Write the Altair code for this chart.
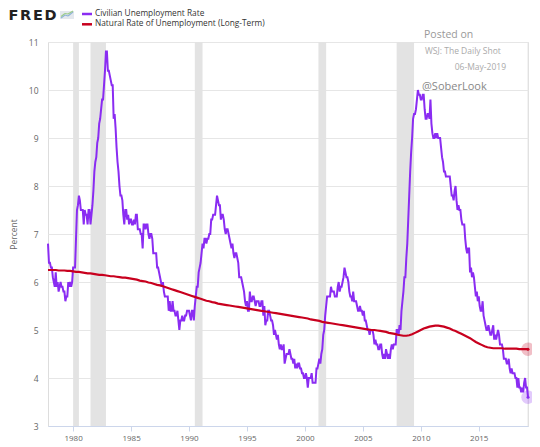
import altair as alt
import pandas as pd

# ---------------- data ----------------
# Civilian Unemployment Rate, monthly, starting Nov 1977
unrate_start_year, unrate_start_month = 1977, 11
unrate = [
    6.8, 6.4,
    6.4, 6.3, 6.3, 6.1, 6.0, 5.9, 6.2, 5.9, 6.0, 5.8, 5.9, 6.0,   # 1978
    5.9, 5.9, 5.8, 5.8, 5.6, 5.7, 5.7, 6.0, 5.9, 6.0, 5.9, 6.0,   # 1979
    6.3, 6.3, 6.3, 6.9, 7.5, 7.6, 7.8, 7.7, 7.5, 7.5, 7.5, 7.2,   # 1980
    7.5, 7.4, 7.4, 7.2, 7.5, 7.5, 7.2, 7.4, 7.6, 7.9, 8.3, 8.5,   # 1981
    8.6, 8.9, 9.0, 9.3, 9.4, 9.6, 9.8, 9.8, 10.1, 10.4, 10.8, 10.8,  # 1982
    10.4, 10.4, 10.3, 10.2, 10.1, 10.1, 9.4, 9.5, 9.2, 8.8, 8.5, 8.3,  # 1983
    8.0, 7.8, 7.8, 7.7, 7.4, 7.2, 7.5, 7.5, 7.3, 7.4, 7.2, 7.3,   # 1984
    7.3, 7.2, 7.2, 7.3, 7.2, 7.4, 7.4, 7.1, 7.1, 7.1, 7.0, 7.0,   # 1985
    6.7, 7.2, 7.2, 7.1, 7.2, 7.2, 7.0, 6.9, 7.0, 7.0, 6.9, 6.6,   # 1986
    6.6, 6.6, 6.6, 6.3, 6.3, 6.2, 6.1, 6.0, 5.9, 6.0, 5.8, 5.7,   # 1987
    5.7, 5.7, 5.7, 5.4, 5.6, 5.4, 5.4, 5.6, 5.4, 5.4, 5.3, 5.3,   # 1988
    5.4, 5.2, 5.0, 5.2, 5.2, 5.3, 5.2, 5.2, 5.3, 5.3, 5.4, 5.4,   # 1989
    5.4, 5.3, 5.2, 5.4, 5.4, 5.2, 5.5, 5.7, 5.9, 5.9, 6.2, 6.3,   # 1990
    6.4, 6.6, 6.8, 6.7, 6.9, 6.9, 6.8, 6.9, 6.9, 7.0, 7.0, 7.3,   # 1991
    7.3, 7.4, 7.4, 7.4, 7.6, 7.8, 7.7, 7.6, 7.6, 7.3, 7.4, 7.4,   # 1992
    7.3, 7.1, 7.0, 7.1, 7.1, 7.0, 6.9, 6.8, 6.7, 6.8, 6.6, 6.5,   # 1993
    6.6, 6.6, 6.5, 6.4, 6.1, 6.1, 6.1, 6.0, 5.9, 5.8, 5.6, 5.5,   # 1994
    5.6, 5.4, 5.4, 5.8, 5.6, 5.6, 5.7, 5.7, 5.6, 5.5, 5.6, 5.6,   # 1995
    5.6, 5.5, 5.5, 5.6, 5.6, 5.3, 5.5, 5.1, 5.2, 5.2, 5.4, 5.4,   # 1996
    5.3, 5.2, 5.2, 5.1, 4.9, 5.0, 4.9, 4.8, 4.9, 4.7, 4.6, 4.7,   # 1997
    4.6, 4.6, 4.7, 4.3, 4.4, 4.5, 4.5, 4.5, 4.6, 4.5, 4.4, 4.4,   # 1998
    4.3, 4.4, 4.2, 4.3, 4.2, 4.3, 4.3, 4.2, 4.2, 4.1, 4.1, 4.0,   # 1999
    4.0, 4.1, 4.0, 3.8, 4.0, 4.0, 4.0, 4.1, 3.9, 3.9, 3.9, 3.9,   # 2000
    4.2, 4.2, 4.3, 4.4, 4.3, 4.5, 4.6, 4.9, 5.0, 5.3, 5.5, 5.7,   # 2001
    5.7, 5.7, 5.7, 5.9, 5.8, 5.8, 5.8, 5.7, 5.7, 5.7, 5.9, 6.0,   # 2002
    5.8, 5.9, 5.9, 6.0, 6.1, 6.3, 6.2, 6.1, 6.1, 6.0, 5.8, 5.7,   # 2003
    5.7, 5.6, 5.8, 5.6, 5.6, 5.6, 5.5, 5.4, 5.4, 5.5, 5.4, 5.4,   # 2004
    5.3, 5.4, 5.2, 5.2, 5.1, 5.0, 5.0, 4.9, 5.0, 5.0, 5.0, 4.9,   # 2005
    4.7, 4.8, 4.7, 4.7, 4.6, 4.6, 4.7, 4.7, 4.5, 4.4, 4.5, 4.4,   # 2006
    4.6, 4.5, 4.4, 4.5, 4.4, 4.6, 4.7, 4.6, 4.7, 4.7, 4.7, 5.0,   # 2007
    5.0, 4.9, 5.1, 5.0, 5.4, 5.6, 5.8, 6.1, 6.1, 6.5, 6.8, 7.3,   # 2008
    7.8, 8.3, 8.7, 9.0, 9.4, 9.5, 9.5, 9.6, 9.8, 10.0, 9.9, 9.9,  # 2009
    9.8, 9.8, 9.9, 9.9, 9.6, 9.4, 9.4, 9.5, 9.5, 9.4, 9.8, 9.3,   # 2010
    9.1, 9.0, 9.0, 9.1, 9.0, 9.1, 9.0, 9.0, 9.0, 8.8, 8.6, 8.5,   # 2011
    8.3, 8.3, 8.2, 8.2, 8.2, 8.2, 8.2, 8.0, 7.8, 7.8, 7.7, 7.9,   # 2012
    8.0, 7.7, 7.5, 7.6, 7.5, 7.5, 7.3, 7.2, 7.2, 7.2, 6.9, 6.7,   # 2013
    6.6, 6.7, 6.7, 6.2, 6.3, 6.1, 6.2, 6.1, 5.9, 5.7, 5.8, 5.6,   # 2014
    5.7, 5.5, 5.4, 5.4, 5.6, 5.3, 5.2, 5.1, 5.0, 5.0, 5.1, 5.0,   # 2015
    4.9, 4.9, 5.0, 5.1, 4.8, 4.9, 4.8, 4.9, 5.0, 4.9, 4.7, 4.7,   # 2016
    4.7, 4.6, 4.4, 4.4, 4.4, 4.3, 4.3, 4.4, 4.2, 4.1, 4.2, 4.1,   # 2017
    4.1, 4.1, 4.0, 4.0, 3.8, 4.0, 3.8, 3.8, 3.7, 3.8, 3.7, 3.9,   # 2018
    4.0, 3.8, 3.8, 3.6,                                           # 2019
]

# Natural Rate of Unemployment (Long-Term), quarterly, starting 1977 Q4
nrou_start_year, nrou_start_quarter = 1977, 4
nrou = [
    6.25,
    6.25, 6.25, 6.25, 6.24,  # 1978
    6.24, 6.24, 6.23, 6.23,  # 1979
    6.22, 6.21, 6.21, 6.20,  # 1980
    6.19, 6.18, 6.18, 6.17,  # 1981
    6.16, 6.15, 6.15, 6.14,  # 1982
    6.13, 6.12, 6.12, 6.11,  # 1983
    6.10, 6.09, 6.09, 6.08,  # 1984
    6.07, 6.06, 6.05, 6.03,  # 1985
    6.02, 6.01, 5.99, 5.98,  # 1986
    5.96, 5.94, 5.93, 5.91,  # 1987
    5.89, 5.87, 5.85, 5.83,  # 1988
    5.81, 5.79, 5.77, 5.75,  # 1989
    5.73, 5.71, 5.69, 5.67,  # 1990
    5.65, 5.63, 5.61, 5.60,  # 1991
    5.58, 5.57, 5.55, 5.54,  # 1992
    5.53, 5.52, 5.51, 5.50,  # 1993
    5.49, 5.48, 5.47, 5.46,  # 1994
    5.45, 5.44, 5.43, 5.42,  # 1995
    5.41, 5.40, 5.39, 5.38,  # 1996
    5.37, 5.36, 5.35, 5.34,  # 1997
    5.33, 5.32, 5.31, 5.30,  # 1998
    5.29, 5.28, 5.27, 5.26,  # 1999
    5.25, 5.24, 5.22, 5.21,  # 2000
    5.20, 5.19, 5.17, 5.16,  # 2001
    5.15, 5.14, 5.13, 5.12,  # 2002
    5.11, 5.10, 5.09, 5.08,  # 2003
    5.07, 5.06, 5.05, 5.04,  # 2004
    5.03, 5.02, 5.01, 5.00,  # 2005
    5.00, 4.99, 4.98, 4.97,  # 2006
    4.96, 4.94, 4.93, 4.92,  # 2007
    4.90, 4.89, 4.88, 4.88,  # 2008
    4.89, 4.91, 4.94, 4.97,  # 2009
    5.00, 5.03, 5.05, 5.07,  # 2010
    5.08, 5.09, 5.09, 5.08,  # 2011
    5.07, 5.05, 5.03, 5.00,  # 2012
    4.98, 4.95, 4.92, 4.89,  # 2013
    4.86, 4.83, 4.79, 4.75,  # 2014
    4.72, 4.69, 4.66, 4.64,  # 2015
    4.63, 4.62, 4.62, 4.62,  # 2016
    4.62, 4.61, 4.61, 4.61,  # 2017
    4.61, 4.61, 4.60, 4.60,  # 2018
    4.60, 4.60,              # 2019
]

# NBER recessions (decimal years)
rec_start = [1980.0, 1981 + 6 / 12, 1990 + 6 / 12, 2001 + 2 / 12, 2007 + 11 / 12]
rec_end = [1980 + 6 / 12, 1982 + 10 / 12, 1991 + 2 / 12, 2001 + 10 / 12, 2009 + 5 / 12]

x_ticks = [1980, 1985, 1990, 1995, 2000, 2005, 2010, 2015]
y_ticks = [3, 4, 5, 6, 7, 8, 9, 10, 11]
x_domain = [1977 + 10 / 12, 2019 + 3 / 12]
y_domain = [3, 11]

# ---------------- tables ----------------
u_df = pd.DataFrame({
    "t": [unrate_start_year + (unrate_start_month - 1 + i) / 12 for i in range(len(unrate))],
    "v": unrate,
})
n_df = pd.DataFrame({
    "t": [nrou_start_year + (nrou_start_quarter - 1 + i) / 4 for i in range(len(nrou))],
    "v": nrou,
})
rec_df = pd.DataFrame({"s": rec_start, "e": rec_end})
u_last = u_df.tail(1)
n_last = n_df.tail(1)
one = pd.DataFrame({"a": [0]})

PURPLE = "#8a2cf2"
RED = "#c8001e"
W, H = 480, 384

xs = alt.Scale(domain=x_domain, nice=False, zero=False)
ys = alt.Scale(domain=y_domain, nice=False, zero=False)

x_axis = alt.Axis(values=x_ticks, format="d", grid=False, domainColor="#ccd6eb",
                  tickColor="#ccd6eb", tickSize=5, labelPadding=3, labelColor="#666666",
                  labelFontSize=8, title=None, labelFlush=False)
y_axis = alt.Axis(values=y_ticks, grid=True, gridColor="#e6e6e6", domain=False, ticks=False,
                  labelPadding=10, labelColor="#666666", labelFontSize=8.5, title="Percent",
                  titleColor="#666666", titleFontSize=8.5, titleFontWeight="normal", titlePadding=10)

bands = alt.Chart(rec_df).mark_rect(color="#e3e3e3").encode(
    x=alt.X("s:Q", scale=xs, axis=x_axis),
    x2="e:Q",
)

right_edge = alt.Chart(one).mark_rule(color="#e6e6e6", strokeWidth=1).encode(
    x=alt.value(W), y=alt.value(0), y2=alt.value(H)
)

u_line = alt.Chart(u_df).mark_line(color=PURPLE, strokeWidth=2).encode(
    x=alt.X("t:Q", scale=xs, axis=x_axis),
    y=alt.Y("v:Q", scale=ys, axis=y_axis),
)
n_line = alt.Chart(n_df).mark_line(color=RED, strokeWidth=2.2, clip=True).encode(
    x=alt.X("t:Q", scale=xs), y=alt.Y("v:Q", scale=ys)
)

def end_marker(df, color, op):
    halo = alt.Chart(df).mark_point(filled=True, shape="circle", size=180, color=color,
                                    opacity=op).encode(
        x=alt.X("t:Q", scale=xs), y=alt.Y("v:Q", scale=ys))
    dot = alt.Chart(df).mark_point(filled=True, shape="circle", size=9, color=color,
                                   opacity=1).encode(
        x=alt.X("t:Q", scale=xs), y=alt.Y("v:Q", scale=ys))
    return halo + dot

def txt(s, x, y, size, color, align="left", weight="normal", font="Open Sans", baseline="middle"):
    return alt.Chart(one).mark_text(text=s, align=align, baseline=baseline, fontSize=size,
                                    color=color, fontWeight=weight, font=font).encode(
        x=alt.value(x), y=alt.value(y))

def seg(x1, x2, y, color, w, y2=None):
    enc = dict(x=alt.value(x1), x2=alt.value(x2), y=alt.value(y))
    if y2 is not None:
        enc["y2"] = alt.value(y2)
    return alt.Chart(one).mark_rule(color=color, strokeWidth=w).encode(**enc)

# header: logo (letters) + small chart icon + legend
logo_letters = ["F", "R", "E", "D"]
logo_x = [-34.5, -22.5, -10, 2.5]
logo = [txt(c, x, -33.5, 14.5, "#222222", align="center", weight="bold",
            font="DejaVu Sans", baseline="top") for c, x in zip(logo_letters, logo_x)]
icon_box = alt.Chart(one).mark_rect(color="#e4e8ee").encode(
    x=alt.value(12), x2=alt.value(26), y=alt.value(-31), y2=alt.value(-23))
icon_lines = [
    seg(13, 17, -24, "#8fb3d9", 1.2, -27), seg(17, 20, -27, "#8fb3d9", 1.2, -26),
    seg(20, 25, -26, "#8fb3d9", 1.2, -30),
    seg(13, 17, -25.5, "#9ccc8a", 1.2, -28.5), seg(17, 20, -28.5, "#9ccc8a", 1.2, -28),
    seg(20, 25, -28, "#9ccc8a", 1.2, -31),
]
leg1 = seg(34, 44, -28, PURPLE, 2.5)
leg2 = seg(34, 44, -17.7, RED, 2.5)
leg1t = txt("Civilian Unemployment Rate", 47, -28, 8.3, "#333333")
leg2t = txt("Natural Rate of Unemployment (Long-Term)", 47, -17.7, 8.3, "#333333")

# annotations
a1 = txt("Posted on", 376, -7, 10.5, "#999999")
a2 = txt("WSJ: The Daily Shot", 377, 9, 8.5, "#aaaaaa")
a3 = txt("06-May-2019", 458, 25, 8.5, "#aaaaaa", align="right")
a4 = txt("@SoberLook", 374, 45, 11, "#888888")

chart = alt.layer(
    bands, right_edge, u_line, n_line,
    end_marker(n_last, RED, 0.25), end_marker(u_last, PURPLE, 0.25),
    *logo, icon_box, *icon_lines, leg1, leg2, leg1t, leg2t,
    a1, a2, a3, a4,
).properties(
    width=W, height=H,
    autosize=alt.AutoSizeParams(type="none"),
    padding={"left": 40, "top": 34, "right": 4, "bottom": 20},
).configure_view(stroke=None).configure(font="Open Sans")

chart.save("out.html", embed_options={"renderer": "svg", "actions": False})
